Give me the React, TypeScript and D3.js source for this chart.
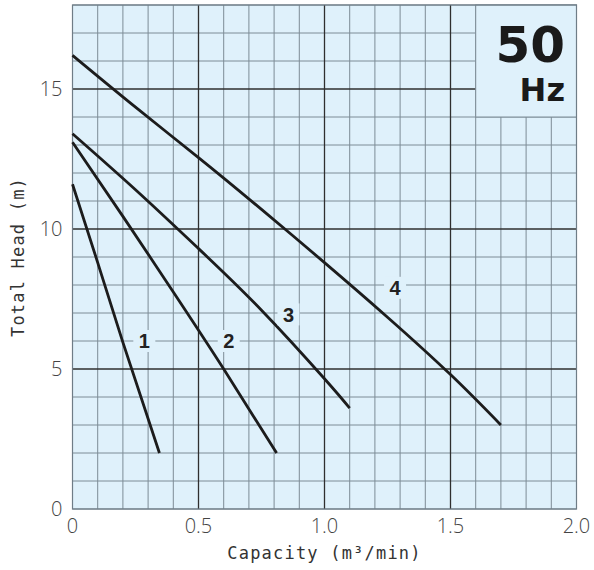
import React from 'react';
import * as d3 from 'd3';

// pump performance curves, 50 Hz (capacity m3/min -> total head m)
const curve1 = [[0, 11.6], [0.1, 8.8], [0.2, 5.95], [0.345, 2.0]];
const curve2 = [[0, 13.1], [0.2, 10.45], [0.4, 7.75], [0.6, 5.0], [0.81, 2.0]];
const curve3 = [[0, 13.4], [0.25, 11.4], [0.5, 9.3], [0.75, 7.1], [1.0, 4.65], [1.1, 3.6]];
const curve4 = [[0, 16.2], [0.25, 14.35], [0.5, 12.55], [0.75, 10.7], [1.0, 8.8], [1.25, 6.85], [1.5, 4.8], [1.7, 3.0]];
const curves = [curve1, curve2, curve3, curve4];

const curveNames = ['1', '2', '3', '4'];
const labelPos = [[0.285, 6.0], [0.62, 6.0], [0.857, 6.95], [1.28, 7.9]];

const xTicks = [0, 0.5, 1.0, 1.5, 2.0];
const xTickLabels = ['0', '0.5', '1.0', '1.5', '2.0'];
const yTicks = [0, 5, 10, 15];

const BG = '#dff1fb';

export default function App() {
  const width = 594;
  const height = 570;
  const x = d3.scaleLinear().domain([0, 2]).range([72.5, 576.5]);
  const y = d3.scaleLinear().domain([0, 18]).range([509, 5]);

  const xMinor = d3.range(0, 21).map(i => i / 10);
  const yMinor = d3.range(0, 19);

  const line = d3.line<number[]>()
    .x(d => x(d[0]))
    .y(d => y(d[1]))
    .curve(d3.curveNatural);

  const isMajorX = (v: number) => Math.abs(v * 2 - Math.round(v * 2)) < 1e-6 && v > 0 && v < 2;
  const isMajorY = (v: number) => v % 5 === 0 && v > 0;

  return (
    <svg width={width} height={height} style={{ position: 'absolute', left: 0, top: 0 }}>
      <rect x={x(0)} y={y(18)} width={x(2) - x(0)} height={y(0) - y(18)} fill={BG} />

      {/* minor grid */}
      {xMinor.filter(v => !isMajorX(v)).map(v => (
        <line key={'xm' + v} x1={x(v)} x2={x(v)} y1={y(0)} y2={y(18)} stroke="#7d8c96" strokeWidth={1} />
      ))}
      {yMinor.filter(v => !isMajorY(v)).map(v => (
        <line key={'ym' + v} x1={x(0)} x2={x(2)} y1={y(v)} y2={y(v)} stroke="#7d8c96" strokeWidth={1} />
      ))}
      {/* major grid */}
      {xMinor.filter(isMajorX).map(v => (
        <line key={'xM' + v} x1={x(v)} x2={x(v)} y1={y(0)} y2={y(18)} stroke="#2f2f2f" strokeWidth={1.3} />
      ))}
      {yMinor.filter(isMajorY).map(v => (
        <line key={'yM' + v} x1={x(0)} x2={x(2)} y1={y(v)} y2={y(v)} stroke="#2f2f2f" strokeWidth={1.3} />
      ))}

      {/* 50 Hz box */}
      <rect x={x(1.6)} y={y(18)} width={x(2) - x(1.6)} height={y(14) - y(18)} fill={BG} stroke="#7d8c96" strokeWidth={1} />
      <text x={565} y={62} textAnchor="end" fontFamily="DejaVu Sans, sans-serif" fontWeight="bold" fontSize={50} fill="#1a1a1a">50</text>
      <text x={565} y={101} textAnchor="end" fontFamily="DejaVu Sans, sans-serif" fontWeight="bold" fontSize={32} fill="#1a1a1a">Hz</text>

      {/* plot border */}
      <rect x={x(0)} y={y(18)} width={x(2) - x(0)} height={y(0) - y(18)} fill="none" stroke="#6f7d87" strokeWidth={1.2} />

      {/* curves */}
      {curves.map((c, i) => (
        <path key={'c' + i} d={line(c) || ''} fill="none" stroke="#1c1c1c" strokeWidth={2.8} strokeLinecap="butt" />
      ))}

      {/* curve labels */}
      {labelPos.map((p, i) => (
        <g key={'l' + i}>
          <rect x={x(p[0]) - 11} y={y(p[1]) - 11} width={22} height={22} fill={BG} />
          <text x={x(p[0])} y={y(p[1])} dy="0.36em" textAnchor="middle" fontFamily="Liberation Sans, Arial, sans-serif" fontWeight="bold" fontSize={20} fill="#222">{curveNames[i]}</text>
        </g>
      ))}

      {/* tick labels */}
      {xTicks.map((v, i) => (
        <text key={'xt' + v} x={x(v)} y={y(0) + 17} dy="0.36em" textAnchor="middle" fontFamily="Open Sans, sans-serif" fontWeight={300} fontSize={20} fill="#444">{xTickLabels[i]}</text>
      ))}
      {yTicks.map(v => (
        <text key={'yt' + v} x={x(0) - 10} y={y(v)} dy="0.36em" textAnchor="end" fontFamily="Open Sans, sans-serif" fontWeight={300} fontSize={20} fill="#444">{v}</text>
      ))}

      {/* axis titles */}
      <text x={(x(0) + x(2)) / 2} y={559} textAnchor="middle" fontFamily="DejaVu Sans Mono, monospace" fontSize={17} letterSpacing={1.2} fill="#333">
        Capacity (m³/min)
      </text>
      <text transform={`translate(24, ${(y(0) + y(18)) / 2}) rotate(-90)`} textAnchor="middle" fontFamily="DejaVu Sans Mono, monospace" fontSize={17} letterSpacing={1.2} fill="#333">
        Total Head (m)
      </text>
    </svg>
  );
}
